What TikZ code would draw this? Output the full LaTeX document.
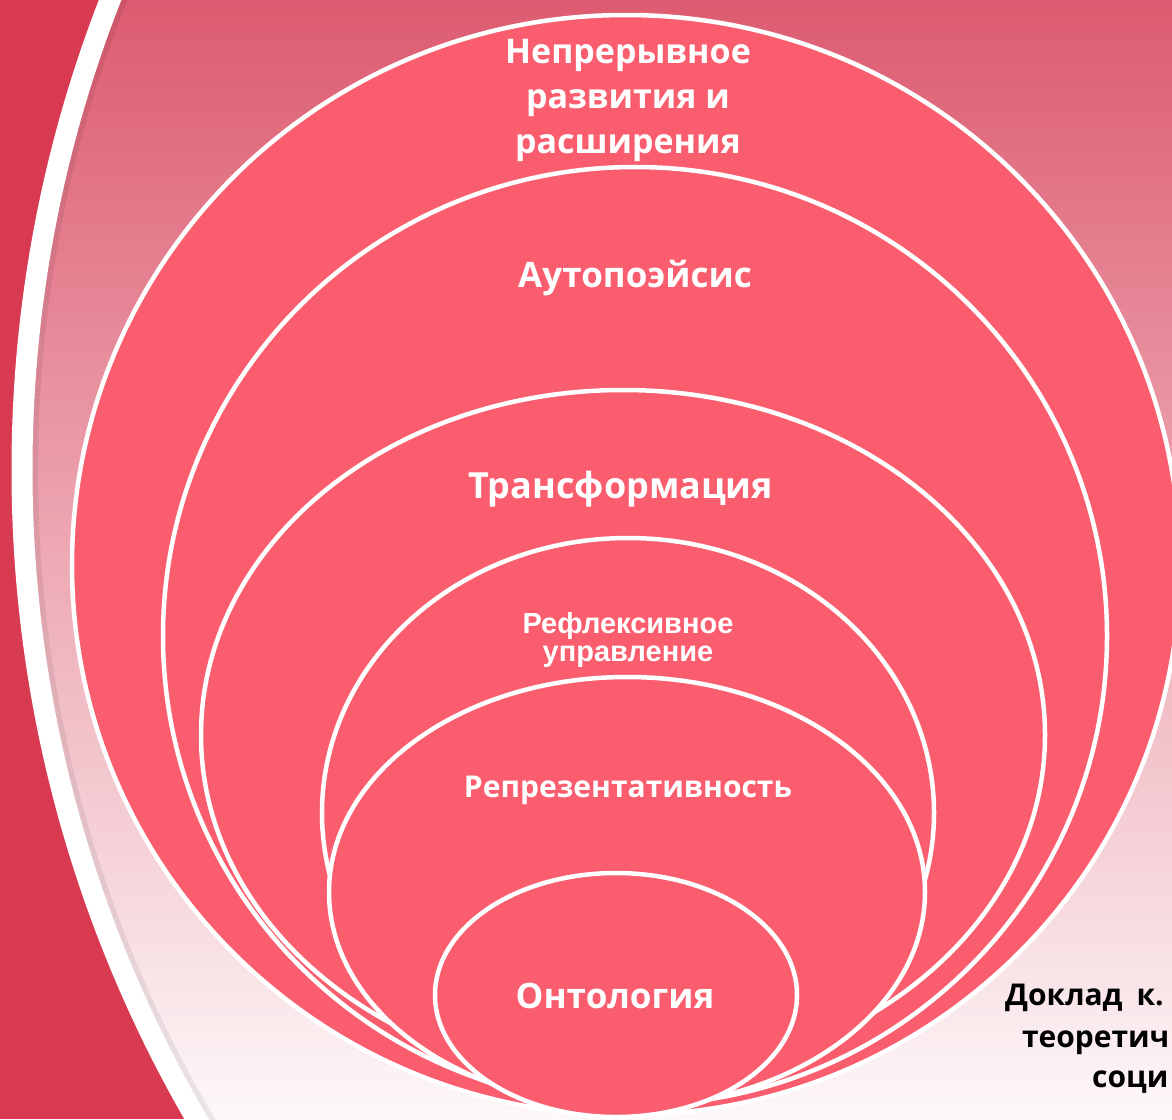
\documentclass[tikz,border=0pt]{standalone}
\usepackage{fontspec}
\setmainfont{Open Sans}
\newfontfamily\arialfont{Liberation Sans}
\usetikzlibrary{positioning}

\definecolor{crimson}{RGB}{216,58,82}
\definecolor{ringred}{RGB}{250,94,110}
\definecolor{fadetop}{RGB}{221,91,112}
\definecolor{fademid}{RGB}{234,160,172}
\definecolor{fadelow}{RGB}{253,248,249}

\tikzset{
  ring/.style={fill=ringred, draw=white, line width=4.5pt},
  biglabel/.style={text=white, align=center, inner sep=0pt},
  smalllabel/.style={text=white, align=center, inner sep=0pt,
    font=\arialfont\bfseries\fontsize{29}{28}\selectfont},
  reportlabel/.style={text=black, inner sep=0pt, anchor=base west,
    font=\bfseries\fontsize{30}{40}\selectfont}
}

\begin{document}
\begin{tikzpicture}[x=1pt, y=-1pt]
\useasboundingbox (0,0) rectangle (1172,1119);
\clip (0,0) rectangle (1172,1119);

% Background: crimson band, white arc, fading pink field
\fill[crimson] (0,0) rectangle (1172,1119);
\begin{scope}
  \clip (1315,470) circle[radius=1293];
  \shade[top color=fadetop, middle color=fademid, bottom color=fadelow]
    (0,0) rectangle (1172,1119);
\end{scope}
\draw[black, opacity=0.07, line width=6pt] (1315,470) circle[radius=1280];
\draw[white, line width=21pt] (1315,470) circle[radius=1293];

% Nested rings, outermost first
\draw[ring] (626,565) ellipse [x radius=554, y radius=550];
\draw[ring] (635,636) ellipse [x radius=472, y radius=469];
\draw[ring] (623,735) ellipse [x radius=422, y radius=345];
\draw[ring] (628,813) ellipse [x radius=306, y radius=275];
\draw[ring] (627,892) ellipse [x radius=298, y radius=215];
\draw[ring] (616,995) ellipse [x radius=181, y radius=122];

% Ring labels
\node[biglabel, anchor=north, font=\bfseries\fontsize{34}{45}\selectfont]
  (contlabel) at (628,39.5) {Непрерывное\\развития и\\расширения};
\node[biglabel, anchor=base, font=\bfseries\fontsize{35}{40}\selectfont]
  (autolabel) at (635,287) {Аутопоэйсис};
\node[biglabel, anchor=base, font=\bfseries\fontsize{36}{42}\selectfont]
  (translabel) at (621,498) {Трансформация};
\node[smalllabel, anchor=north] (refllabel) at (628,612) {Рефлексивное\\управление};
\node[biglabel, anchor=base, font=\bfseries\fontsize{30}{36}\selectfont]
  (reprlabel) at (628,797) {Репрезентативность};
\node[biglabel, anchor=base, font=\bfseries\fontsize{35}{40}\selectfont]
  (ontolabel) at (615,1008) {Онтология};

% Report caption (close to the right edge)
\node[reportlabel] (reportA) at (1005,1005) {Доклад\hspace{14pt}к.};
\node[reportlabel] (reportB) at (1022,1047) {теоретич};
\node[reportlabel] (reportC) at (1092,1087) {соци};
\end{tikzpicture}
\end{document}
